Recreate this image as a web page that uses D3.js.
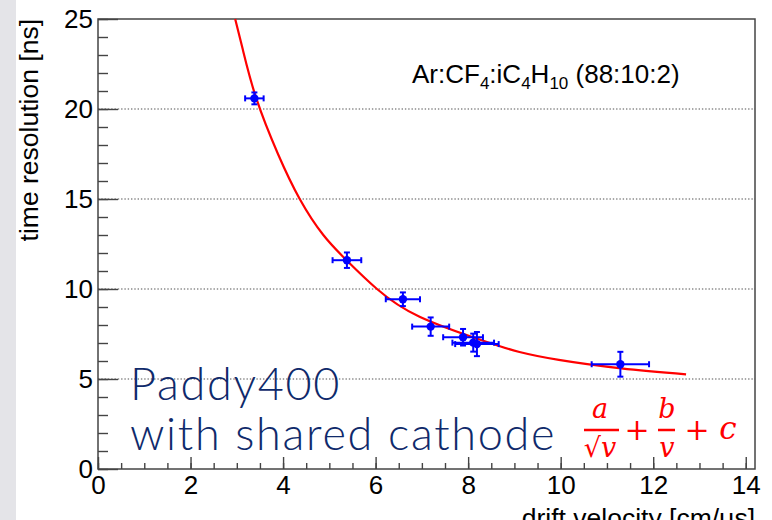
<!DOCTYPE html>
<html>
<head>
<meta charset="utf-8">
<script src="https://cdn.jsdelivr.net/npm/d3@7"></script>
<style>
  body { margin: 0; background: #fff; }
  svg { display: block; }
</style>
</head>
<body>
<div id="chart"></div>
<script>
// measured points (drift velocity vs time resolution)
const velocity = [3.38, 5.38, 6.59, 7.19, 7.89, 8.11, 8.19, 11.29];
const velocityErr = [0.20, 0.31, 0.37, 0.40, 0.43, 0.45, 0.47, 0.62];
const resolution = [20.59, 11.6, 9.43, 7.91, 7.32, 7.02, 6.94, 5.82];
const resolutionErr = [0.33, 0.43, 0.38, 0.51, 0.46, 0.50, 0.67, 0.69];

// fit curve a/sqrt(v) + b/v + c
const fitVelocity = [2.965, 3.13, 3.42, 3.89, 4.36, 4.87, 5.41, 6.03, 6.95, 8.39, 9.11, 9.96, 11.31, 12.71];
const fitResolution = [25, 23.3, 20.6, 17.5, 15.0, 13.0, 11.5, 10.0, 8.46, 7.07, 6.50, 6.06, 5.59, 5.26];

const xTickValues = [0, 2, 4, 6, 8, 10, 12, 14];
const yTickValues = [0, 5, 10, 15, 20, 25];
const gridValues = [5, 10, 15, 20];

const svgParams = {
    width: 772,
    height: 520,
    margin: {top: 19, right: 17, bottom: 51, left: 98}
};
const innerW = svgParams.width - svgParams.margin.left - svgParams.margin.right;
const innerH = svgParams.height - svgParams.margin.top - svgParams.margin.bottom;

const root = d3.select("#chart")
    .append("svg")
    .attr("width", svgParams.width)
    .attr("height", svgParams.height);

// grey strip on the left edge
root.append("rect")
    .attr("x", 0).attr("y", 0)
    .attr("width", 16).attr("height", svgParams.height)
    .attr("fill", "#e4e4e8");

const svg = root.append("g")
    .attr("transform", `translate(${svgParams.margin.left},${svgParams.margin.top})`);

const x = d3.scaleLinear().domain([0, 14.2]).range([0, innerW]);
const y = d3.scaleLinear().domain([0, 25]).range([innerH, 0]);

// dotted horizontal grid
svg.selectAll(".grid")
    .data(gridValues)
    .enter().append("line")
    .attr("class", "grid")
    .attr("x1", 0).attr("x2", innerW)
    .attr("y1", d => y(d)).attr("y2", d => y(d))
    .attr("stroke", "#8a8a8a")
    .attr("stroke-width", 1.4)
    .attr("stroke-dasharray", "1.4,1.9");

const labelFont = "'Liberation Sans', Arial, Helvetica, sans-serif";

// minor ticks
svg.append("g")
    .attr("transform", `translate(0,${innerH})`)
    .call(d3.axisBottom(x).tickValues(d3.range(0, 14.01, 0.5)).tickSizeInner(-6).tickSizeOuter(0).tickFormat(""))
    .call(g => g.select(".domain").remove());
svg.append("g")
    .call(d3.axisLeft(y).tickValues(d3.range(0, 25.01, 1)).tickSizeInner(-10).tickSizeOuter(0).tickFormat(""))
    .call(g => g.select(".domain").remove());

// major ticks with labels
const xAxis = svg.append("g")
    .attr("transform", `translate(0,${innerH})`)
    .call(d3.axisBottom(x).tickValues(xTickValues).tickSizeInner(-12).tickSizeOuter(0).tickPadding(7));
const yAxis = svg.append("g")
    .call(d3.axisLeft(y).tickValues(yTickValues).tickSizeInner(-20).tickSizeOuter(0).tickPadding(5));

[xAxis, yAxis].forEach(g => {
    g.select(".domain").remove();
    g.selectAll("text").attr("font-family", labelFont).attr("font-size", 26).attr("fill", "#000");
});
svg.selectAll(".tick line").attr("stroke", "#444").attr("stroke-width", 1.4);

// frame
svg.append("rect")
    .attr("x", 0).attr("y", 0)
    .attr("width", innerW).attr("height", innerH)
    .attr("fill", "none")
    .attr("stroke", "#444")
    .attr("stroke-width", 1.5);

// axis titles
svg.append("text")
    .attr("x", innerW)
    .attr("y", innerH + 58)
    .attr("text-anchor", "end")
    .attr("font-family", labelFont)
    .attr("font-size", 26.5)
    .text("drift velocity [cm/\u03bcs]");

svg.append("text")
    .attr("transform", "rotate(-90)")
    .attr("x", 0)
    .attr("y", -60)
    .attr("text-anchor", "end")
    .attr("font-family", labelFont)
    .attr("font-size", 26.5)
    .text("time resolution [ns]");

// fit curve
const line = d3.line()
    .x((d, i) => x(fitVelocity[i]))
    .y((d, i) => y(fitResolution[i]))
    .curve(d3.curveNatural);

svg.append("path")
    .attr("d", line(fitVelocity))
    .attr("fill", "none")
    .attr("stroke", "#ff0000")
    .attr("stroke-width", 2.2);

// data points with error bars
const pts = svg.selectAll(".pt")
    .data(velocity.map((v, i) => ({v, t: resolution[i], ev: velocityErr[i], et: resolutionErr[i]})))
    .enter().append("g")
    .attr("class", "pt");

const blue = "#0000ff";
pts.append("line")
    .attr("x1", d => x(d.v - d.ev)).attr("x2", d => x(d.v + d.ev))
    .attr("y1", d => y(d.t)).attr("y2", d => y(d.t))
    .attr("stroke", blue).attr("stroke-width", 2);
pts.append("line")
    .attr("x1", d => x(d.v)).attr("x2", d => x(d.v))
    .attr("y1", d => y(d.t - d.et)).attr("y2", d => y(d.t + d.et))
    .attr("stroke", blue).attr("stroke-width", 2);
// caps
[-1, 1].forEach(s => {
    pts.append("line")
        .attr("x1", d => x(d.v + s * d.ev)).attr("x2", d => x(d.v + s * d.ev))
        .attr("y1", d => y(d.t) - 3).attr("y2", d => y(d.t) + 3)
        .attr("stroke", blue).attr("stroke-width", 2);
    pts.append("line")
        .attr("x1", d => x(d.v) - 3).attr("x2", d => x(d.v) + 3)
        .attr("y1", d => y(d.t + s * d.et)).attr("y2", d => y(d.t + s * d.et))
        .attr("stroke", blue).attr("stroke-width", 2);
});
pts.append("circle")
    .attr("cx", d => x(d.v))
    .attr("cy", d => y(d.t))
    .attr("r", 4.2)
    .attr("fill", blue);

// gas mixture label
const gas = svg.append("text")
    .attr("x", 314)
    .attr("y", 64)
    .attr("font-family", labelFont)
    .attr("font-size", 26)
    .attr("fill", "#000");
gas.append("tspan").text("Ar:CF");
gas.append("tspan").attr("font-size", 17).attr("dy", 6).text("4");
gas.append("tspan").attr("dy", -6).text(":iC");
gas.append("tspan").attr("font-size", 17).attr("dy", 6).text("4");
gas.append("tspan").attr("dy", -6).text("H");
gas.append("tspan").attr("font-size", 17).attr("dy", 6).text("10");
gas.append("tspan").attr("dy", -6).text(" (88:10:2)");

// detector label
const paddy = svg.append("text")
    .attr("font-family", "Lato, 'Open Sans', sans-serif")
    .attr("font-weight", 300)
    .attr("font-size", 45)
    .attr("letter-spacing", 1.7)
    .attr("fill", "#0f2a6b");
paddy.append("tspan").attr("x", 32).attr("y", 381).text("Paddy400");
paddy.append("tspan").attr("x", 32).attr("y", 431).text("with shared cathode");

// fit formula
const red = "#ff0000";
const mathFont = "'DejaVu Serif', 'Liberation Serif', serif";
const formula = svg.append("g")
    .attr("font-family", mathFont)
    .attr("font-style", "italic")
    .attr("font-size", 27)
    .attr("fill", red)
    .attr("text-anchor", "middle");
formula.append("text").attr("x", 502).attr("y", 399).text("a");
formula.append("line").attr("x1", 486).attr("x2", 521).attr("y1", 411).attr("y2", 411)
    .attr("stroke", red).attr("stroke-width", 2.5);
formula.append("text").attr("x", 502).attr("y", 438).attr("font-style", "normal").text("\u221a")
    .append("tspan").attr("font-style", "italic").text("v");
formula.append("text").attr("x", 539).attr("y", 421).attr("font-style", "normal").attr("font-size", 30).text("+");
formula.append("text").attr("x", 569).attr("y", 399).text("b");
formula.append("line").attr("x1", 560).attr("x2", 577).attr("y1", 411).attr("y2", 411)
    .attr("stroke", red).attr("stroke-width", 2.5);
formula.append("text").attr("x", 569).attr("y", 438).text("v");
formula.append("text").attr("x", 599).attr("y", 421).attr("font-style", "normal").attr("font-size", 30).text("+");
formula.append("text").attr("x", 630).attr("y", 420).attr("font-size", 31).text("c");
</script>
</body>
</html>
